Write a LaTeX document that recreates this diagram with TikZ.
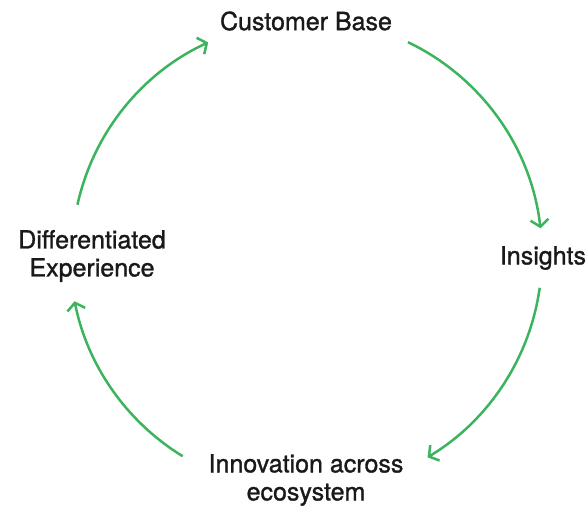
\documentclass[tikz,border=0pt]{standalone}
\usepackage{fontspec}
\setmainfont{TeX Gyre Heros}[UprightFeatures={FakeBold=1.2}]
\usetikzlibrary{arrows.meta}
\definecolor{leafgreen}{RGB}{60,179,95}
\tikzset{
  stage/.style={align=center, text=black!90, font=\fontsize{25}{28}\selectfont, inner sep=0pt},
  cyclearrow/.style={-{Straight Barb[length=7pt, width=18pt, line width=2.5pt]}, line width=2.5pt, draw=leafgreen}
}

\begin{document}
\begin{tikzpicture}[x=1pt, y=1pt]
  \useasboundingbox (0,0) rectangle (586,506);
  \coordinate (hub) at (306,251);

  \node[stage] (cb) at (306,485) {Customer Base};
  \node[stage] (ins) at (543,248) {Insights};
  \node[stage] (inn) at (306,26) {Innovation across\\ecosystem};
  \node[stage] (dif) at (92,250) {Differentiated\\Experience};

  \draw[cyclearrow] ([shift={(64.4:236pt)}]hub) arc[start angle=64.4, end angle=6.5, radius=236pt];
  \draw[cyclearrow] ([shift={(-8:236pt)}]hub) arc[start angle=-8, end angle=-59, radius=236pt];
  \draw[cyclearrow] ([shift={(238.5:236pt)}]hub) arc[start angle=238.5, end angle=191.3, radius=236pt];
  \draw[cyclearrow] ([shift={(167.6:234pt)}]hub) arc[start angle=167.6, end angle=114.7, radius=234pt];
\end{tikzpicture}
\end{document}
